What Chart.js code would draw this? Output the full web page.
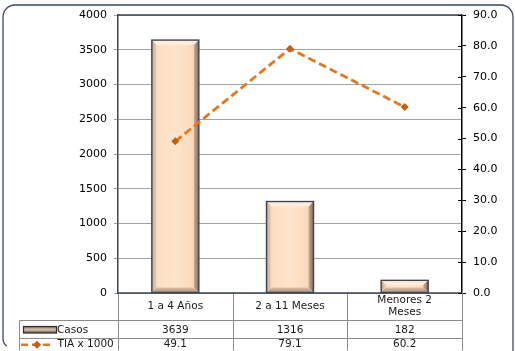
<!DOCTYPE html>
<html>
<head>
<meta charset="utf-8">
<script src="https://cdn.jsdelivr.net/npm/chart.js@4"></script>
<style>
  html, body { margin: 0; padding: 0; background: #ffffff; }
  #wrap { width: 515px; height: 351px; }
</style>
</head>
<body>
<div id="wrap"><canvas id="c" width="515" height="351"></canvas></div>
<script>
// Casos por grupo de edad y tasa de incidencia acumulada (TIA x 1000)
const categories = ['1 a 4 Años', '2 a 11 Meses', ['Menores 2', 'Meses']];
const casos = [3639, 1316, 182];
const tia = [49.1, 79.1, 60.2];
const seriesNames = ['Casos', 'TIA x 1000'];
const casosTicks = [0, 500, 1000, 1500, 2000, 2500, 3000, 3500, 4000];
const tiaTicks = [0, 10, 20, 30, 40, 50, 60, 70, 80, 90];

const FONT = 'DejaVu Sans';
const LINE_COLOR = '#e8761c';
const MARK_COLOR = '#c45e10';
const TABLE_GRID = '#8c8c8c';

// Beveled peach block used for the bars
function bevelBox(ctx, l, t, r, b, s) {
  s = Math.min(s, (r - l) / 2, (b - t) / 2);
  ctx.save();
  const body = ctx.createLinearGradient(l, 0, r, 0);
  body.addColorStop(0, '#fbdcc0');
  body.addColorStop(0.5, '#fee4cc');
  body.addColorStop(1, '#f8d6b8');
  ctx.fillStyle = body;
  ctx.fillRect(l, t, r - l, b - t);
  // top
  ctx.fillStyle = '#ffeedd';
  ctx.beginPath();
  ctx.moveTo(l, t); ctx.lineTo(r, t); ctx.lineTo(r - s, t + s); ctx.lineTo(l + s, t + s);
  ctx.closePath(); ctx.fill();
  // left
  const lg = ctx.createLinearGradient(l, 0, l + s, 0);
  lg.addColorStop(0, '#bfa48e');
  lg.addColorStop(1, '#f4d6ba');
  ctx.fillStyle = lg;
  ctx.beginPath();
  ctx.moveTo(l, t); ctx.lineTo(l + s, t + s); ctx.lineTo(l + s, b - s); ctx.lineTo(l, b);
  ctx.closePath(); ctx.fill();
  // right
  const rg = ctx.createLinearGradient(r - s, 0, r, 0);
  rg.addColorStop(0, '#d0ae92');
  rg.addColorStop(1, '#80675a');
  ctx.fillStyle = rg;
  ctx.beginPath();
  ctx.moveTo(r, t); ctx.lineTo(r - s, t + s); ctx.lineTo(r - s, b - s); ctx.lineTo(r, b);
  ctx.closePath(); ctx.fill();
  // bottom
  const bg = ctx.createLinearGradient(0, b - s, 0, b);
  bg.addColorStop(0, '#e2c2a6');
  bg.addColorStop(1, '#a88c78');
  ctx.fillStyle = bg;
  ctx.beginPath();
  ctx.moveTo(l, b); ctx.lineTo(l + s, b - s); ctx.lineTo(r - s, b - s); ctx.lineTo(r, b);
  ctx.closePath(); ctx.fill();
  ctx.strokeStyle = '#3e4656';
  ctx.lineWidth = 1.4;
  ctx.strokeRect(l, t, r - l, b - t);
  ctx.restore();
}

// Small horizontal key for the bar series in the data table
function barKey(ctx, l, t, r, b) {
  ctx.save();
  const g = ctx.createLinearGradient(0, t, 0, b);
  g.addColorStop(0, '#7d6a5c');
  g.addColorStop(0.45, '#d9c2ad');
  g.addColorStop(1, '#6f5c50');
  ctx.fillStyle = g;
  ctx.fillRect(l, t, r - l, b - t);
  ctx.strokeStyle = '#2e2e34';
  ctx.lineWidth = 1.2;
  ctx.strokeRect(l, t, r - l, b - t);
  ctx.restore();
}

function diamond(ctx, x, y, r) {
  ctx.beginPath();
  ctx.moveTo(x, y - r); ctx.lineTo(x + r, y); ctx.lineTo(x, y + r); ctx.lineTo(x - r, y);
  ctx.closePath();
  ctx.fillStyle = MARK_COLOR;
  ctx.fill();
}

// Rounded outer border, open at the bottom edge of the canvas
const framePlugin = {
  id: 'frame',
  beforeDraw(chart) {
    const ctx = chart.ctx;
    const R = 12;
    ctx.save();
    ctx.fillStyle = '#ffffff';
    ctx.fillRect(0, 0, chart.width, chart.height);
    ctx.strokeStyle = '#3b4863';
    ctx.lineWidth = 1.3;
    ctx.beginPath();
    ctx.moveTo(7, 346);
    ctx.quadraticCurveTo(3, 344, 3, 338);
    ctx.lineTo(3, 5 + R);
    ctx.arcTo(3, 5, 3 + R, 5, R);
    ctx.lineTo(513 - R, 5);
    ctx.arcTo(513, 5, 513, 5 + R, R);
    ctx.lineTo(513, chart.height + 2);
    ctx.stroke();
    ctx.restore();
  }
};

const bevelPlugin = {
  id: 'bevel',
  afterDatasetDraw(chart, args) {
    if (chart.data.datasets[args.index].type !== 'bar') return;
    const ctx = chart.ctx;
    args.meta.data.forEach(bar => {
      const p = bar.getProps(['x', 'y', 'base', 'width'], true);
      bevelBox(ctx, p.x - p.width / 2, p.y, p.x + p.width / 2, p.base, 5);
    });
  }
};

const tablePlugin = {
  id: 'dataTable',
  afterDraw(chart) {
    const ctx = chart.ctx;
    const a = chart.chartArea;
    const xs = chart.scales.x;
    const y1 = chart.scales.y1;
    const n = categories.length;
    const centers = categories.map((_, i) => xs.getPixelForValue(i));
    const bounds = [a.left];
    for (let i = 0; i < n - 1; i++) bounds.push((centers[i] + centers[i + 1]) / 2);
    bounds.push(a.right);

    const rowHead = a.bottom + 27;
    const rowCasos = rowHead + 18;
    const rowTia = chart.height - 0.5;
    const keyLeft = 19.5;

    ctx.save();
    // table grid
    ctx.strokeStyle = TABLE_GRID;
    ctx.lineWidth = 1;
    ctx.beginPath();
    bounds.forEach(bx => {
      const x = Math.round(bx) + 0.5;
      ctx.moveTo(x, a.bottom); ctx.lineTo(x, rowTia);
    });
    [rowHead, rowCasos, rowTia].forEach(y => {
      const yy = Math.round(y) + 0.5;
      ctx.moveTo(keyLeft, yy); ctx.lineTo(a.right, yy);
    });
    ctx.moveTo(keyLeft, Math.round(rowHead) + 0.5); ctx.lineTo(keyLeft, rowTia);
    ctx.stroke();

    // plot frame: top and bottom lines
    ctx.strokeStyle = '#3d4556';
    ctx.lineWidth = 1.5;
    ctx.beginPath();
    ctx.moveTo(a.left, a.top); ctx.lineTo(a.right, a.top);
    ctx.moveTo(a.left, a.bottom); ctx.lineTo(a.right, a.bottom);
    ctx.stroke();

    // inner half of the secondary axis tick marks
    ctx.strokeStyle = '#000';
    ctx.lineWidth = 1;
    ctx.beginPath();
    tiaTicks.forEach(v => {
      const y = Math.round(y1.getPixelForValue(v)) + 0.5;
      ctx.moveTo(a.right - 4, y); ctx.lineTo(a.right, y);
    });
    ctx.stroke();

    // texts
    ctx.fillStyle = '#1a1a1a';
    ctx.font = '10.5px "' + FONT + '"';
    ctx.textAlign = 'center';
    ctx.textBaseline = 'middle';
    categories.forEach((c, i) => {
      const lines = Array.isArray(c) ? c : [c];
      const mid = (a.bottom + rowHead) / 2;
      const lh = 12.5;
      lines.forEach((t, k) => {
        ctx.fillText(t, centers[i], mid + (k - (lines.length - 1) / 2) * lh);
      });
    });
    const yCasos = (rowHead + rowCasos) / 2 + 1;
    const yTia = (rowCasos + rowTia) / 2 + 0.5;
    casos.forEach((v, i) => ctx.fillText(String(v), centers[i], yCasos));
    tia.forEach((v, i) => ctx.fillText(v.toFixed(1), centers[i], yTia));

    // legend keys
    barKey(ctx, 23.5, yCasos - 3.5, 56.5, yCasos + 3);
    ctx.fillStyle = '#1a1a1a';
    ctx.textAlign = 'left';
    ctx.fillText(seriesNames[0], 57, yCasos);
    ctx.strokeStyle = LINE_COLOR;
    ctx.lineWidth = 2.5;
    ctx.setLineDash([7, 4]);
    ctx.beginPath();
    ctx.moveTo(21, yTia); ctx.lineTo(54, yTia);
    ctx.stroke();
    ctx.setLineDash([]);
    diamond(ctx, 37, yTia, 4);
    ctx.fillStyle = '#1a1a1a';
    ctx.fillText(seriesNames[1], 57.5, yTia);
    ctx.restore();
  }
};

new Chart(document.getElementById('c'), {
  data: {
    labels: categories,
    datasets: [
      {
        type: 'line',
        label: seriesNames[1],
        data: tia,
        yAxisID: 'y1',
        order: 0,
        borderColor: LINE_COLOR,
        borderWidth: 2.8,
        borderDash: [8, 4],
        pointStyle: 'rectRot',
        pointRadius: 4,
        pointBackgroundColor: MARK_COLOR,
        pointBorderColor: MARK_COLOR,
        pointBorderWidth: 0,
        fill: false,
        tension: 0
      },
      {
        type: 'bar',
        label: seriesNames[0],
        data: casos,
        yAxisID: 'y',
        order: 1,
        backgroundColor: '#fde2c8',
        borderWidth: 0,
        barPercentage: 0.41,
        categoryPercentage: 1
      }
    ]
  },
  options: {
    responsive: false,
    animation: false,
    devicePixelRatio: 1,
    layout: { padding: { top: 15, bottom: 58, left: 0, right: 0 } },
    plugins: { legend: { display: false }, tooltip: { enabled: false } },
    scales: {
      x: { type: 'category', display: false, offset: true },
      y: {
        position: 'left',
        min: 0,
        max: 4000,
        afterBuildTicks: s => { s.ticks = casosTicks.map(v => ({ value: v })); },
        afterFit: s => { s.width = 118; },
        ticks: { color: '#000', padding: 7, font: { family: FONT, size: 11 }, callback: v => String(v) },
        grid: { color: '#a3a3a3', lineWidth: 1, tickLength: 4 },
        border: { color: '#3d4556', width: 1.5 }
      },
      y1: {
        position: 'right',
        min: 0,
        max: 90,
        afterBuildTicks: s => { s.ticks = tiaTicks.map(v => ({ value: v })); },
        afterFit: s => { s.width = 53; },
        ticks: { color: '#000', padding: 7, font: { family: FONT, size: 11 }, callback: v => Number(v).toFixed(1) },
        grid: { drawOnChartArea: false, color: '#000', lineWidth: 1, tickLength: 4 },
        border: { color: '#000', width: 1.5 }
      }
    }
  },
  plugins: [framePlugin, bevelPlugin, tablePlugin]
});
</script>
</body>
</html>
